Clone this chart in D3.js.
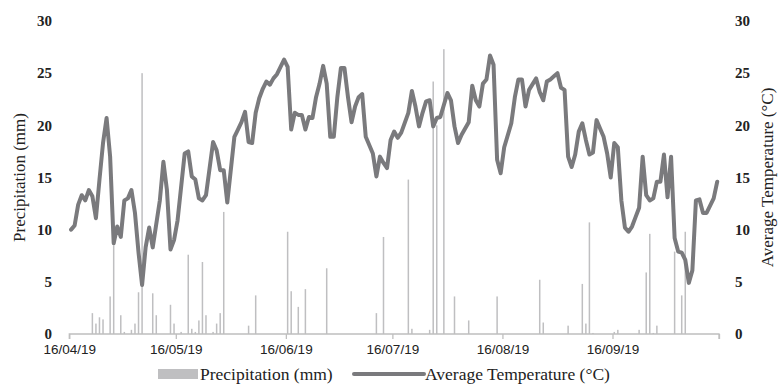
<!DOCTYPE html>
<html>
<head>
<meta charset="utf-8">
<script src="https://cdn.jsdelivr.net/npm/d3@7"></script>
<style>
  body { margin: 0; background: #fff; }
  svg { display: block; }
</style>
</head>
<body>
<div id="chart"></div>
<script>
// Day offsets are counted from 16/04/19
const startDate = '16/04/19';
const endDate = '16/10/19';
const tickLabels = ['16/04/19', '16/05/19', '16/06/19', '16/07/19', '16/08/19', '16/09/19'];
const yTicks = [0, 5, 10, 15, 20, 25, 30];

// Daily average temperature (°C)
const tempDays = [
  0, 1, 2, 3, 4, 5, 6, 7, 8, 9, 10, 11, 12, 13, 14, 15, 16, 17, 18, 19,
  20, 21, 22, 23, 25, 26, 27, 28, 29, 30, 32, 33, 34, 35, 36, 37, 38, 40, 41, 42,
  43, 44, 46, 47, 48, 49, 50, 51, 52, 53, 54, 55, 56, 57, 58, 59, 60, 61, 62, 63,
  64, 65, 66, 67, 68, 69, 70, 71, 72, 73, 74, 75, 76, 77, 78, 79, 80, 81, 82, 83,
  85, 86, 87, 88, 89, 90, 91, 92, 93, 95, 96, 97, 98, 99, 100, 101, 102, 103, 104, 106,
  107, 108, 109, 110, 112, 113, 114, 115, 116, 117, 118, 119, 120, 121, 122, 124, 125, 126, 127, 128,
  129, 131, 132, 133, 134, 135, 136, 137, 138, 139, 140, 141, 142, 143, 144, 145, 146, 147, 148, 149,
  150, 151, 152, 153, 154, 155, 156, 157, 158, 159, 160, 161, 162, 163, 164, 165, 166, 167, 168, 169,
  170, 171, 172, 173, 174, 175, 176, 177, 178, 179, 181, 182
];
const tempValues = [
  10.0, 10.4, 12.4, 13.3, 12.8, 13.8, 13.2, 11.1, 14.8, 18.3, 20.7, 17.0, 8.7, 10.3, 9.3, 12.8, 13.0, 13.8, 11.6, 7.8,
  4.7, 8.3, 10.2, 8.3, 12.8, 16.5, 13.8, 8.1, 9.0, 10.9, 17.3, 17.5, 15.1, 14.8, 13.0, 12.8, 13.3, 18.4, 17.6, 15.7,
  15.7, 12.6, 18.9, 19.6, 20.3, 21.3, 18.4, 18.3, 21.2, 22.6, 23.5, 24.2, 23.9, 24.5, 24.9, 25.6, 26.3, 25.6, 19.6, 21.2,
  21.0, 21.0, 19.6, 20.8, 20.7, 22.7, 24.0, 25.7, 24.0, 18.9, 18.9, 22.7, 25.5, 25.5, 22.7, 20.3, 21.8, 22.7, 23.0, 18.9,
  17.3, 15.1, 17.0, 16.4, 15.9, 18.6, 19.4, 18.8, 19.3, 21.2, 23.3, 21.8, 19.9, 21.2, 22.3, 22.4, 19.9, 20.7, 20.8, 23.1,
  22.4, 19.9, 18.3, 19.1, 20.3, 23.8, 22.4, 21.8, 24.0, 24.4, 26.7, 25.8, 16.7, 15.4, 17.9, 20.2, 22.7, 24.4, 24.4, 21.8,
  23.4, 24.5, 23.2, 22.4, 24.2, 24.4, 24.7, 25.0, 23.6, 23.4, 17.0, 16.0, 17.2, 19.4, 20.2, 18.6, 17.2, 17.4, 20.5, 19.7,
  18.9, 17.3, 15.0, 18.3, 17.9, 12.8, 10.2, 9.8, 10.3, 11.2, 12.1, 17.0, 13.3, 12.8, 13.0, 14.6, 14.6, 17.2, 13.1, 17.0,
  9.2, 7.9, 7.8, 7.1, 4.9, 6.1, 12.8, 12.9, 11.6, 11.6, 13.0, 14.6
];

// Daily precipitation (mm), rain days only
const precipDays = [
  6, 7, 8, 9, 11, 12, 14, 15, 17, 18, 19, 20, 23, 24, 28, 29, 31, 33, 34, 35,
  36, 37, 38, 40, 41, 42, 43, 50, 52, 61, 62, 64, 66, 72, 86, 88, 95, 96, 101, 102,
  103, 105, 108, 112, 120, 132, 133, 140, 144, 145, 146, 147, 153, 154, 160, 162, 163, 164, 165, 170,
  172, 173
];
const precipValues = [
  2.0, 1.0, 1.6, 1.4, 3.6, 8.5, 1.8, 0.2, 0.4, 1.0, 4.0, 25.0, 3.9, 1.8, 2.8, 1.0, 0.2, 7.6, 0.5, 0.2,
  1.3, 6.9, 1.8, 0.2, 1.0, 2.0, 11.7, 0.8, 3.7, 9.8, 4.1, 2.6, 4.3, 6.3, 2.0, 9.3, 14.8, 0.5, 0.4, 24.2,
  20.0, 27.3, 3.6, 1.3, 3.6, 5.2, 1.1, 0.8, 4.8, 1.0, 10.7, 0.1, 0.2, 0.4, 0.4, 5.9, 9.6, 0.1, 0.8, 7.9,
  3.7, 9.8
];

const width = 779, height = 385;
const margin = { top: 21, right: 60, bottom: 51, left: 69.3 };
const parse = d3.timeParse('%d/%m/%y');
const base = parse(startDate);

const svg = d3.select('#chart').append('svg')
  .attr('width', width)
  .attr('height', height);

const x = d3.scaleTime()
  .domain([base, parse(endDate)])
  .range([margin.left, 719]);

const yLeft = d3.scaleLinear().domain([0, 30]).range([height - margin.bottom, margin.top]);
const yRight = d3.scaleLinear().domain([0, 30]).range([height - margin.bottom, margin.top]);

// centre of a day slot
const dayX = d => {
  const t = d3.timeDay.offset(base, d);
  return (x(t) + x(d3.timeDay.offset(t, 1))) / 2;
};

// Precipitation bars
svg.append('g')
  .selectAll('rect')
  .data(precipDays.map((d, i) => ({ day: d, value: precipValues[i] })))
  .join('rect')
  .attr('x', d => dayX(d.day) - 0.75)
  .attr('y', d => yLeft(d.value))
  .attr('width', 1.5)
  .attr('height', d => yLeft(0) - yLeft(d.value))
  .attr('fill', '#bfbfc1');

// X axis
const xAxis = d3.axisBottom(x)
  .tickValues(tickLabels.map(parse).concat([parse(endDate)]))
  .tickSize(5)
  .tickFormat(d => tickLabels.find(l => +parse(l) === +d) || '');

const gx = svg.append('g')
  .attr('transform', `translate(0,${yLeft(0)})`)
  .call(xAxis);
gx.select('.domain').attr('stroke', '#bfbfbf').attr('stroke-width', 1.3).attr('d', `M${margin.left},5V0H719V5`);
gx.selectAll('.tick line').attr('stroke', '#bfbfbf').attr('stroke-width', 1.3);
gx.selectAll('.tick text')
  .attr('y', 10)
  .attr('fill', '#222')
  .attr('font-family', '"Liberation Sans", Arial, sans-serif')
  .attr('font-size', '13.5px')
  .attr('dy', '0.71em');

// Temperature line
const line = d3.line()
  .x((d, i) => dayX(d))
  .y((d, i) => yRight(tempValues[i]));

svg.append('path')
  .datum(tempDays)
  .attr('d', line)
  .attr('fill', 'none')
  .attr('stroke', '#7a7a7d')
  .attr('stroke-width', 4)
  .attr('stroke-linejoin', 'round')
  .attr('stroke-linecap', 'round');

// Left axis labels
svg.append('g')
  .selectAll('text')
  .data(yTicks)
  .join('text')
  .attr('x', 52)
  .attr('y', d => yLeft(d))
  .attr('dy', '0.35em')
  .attr('text-anchor', 'end')
  .attr('font-family', '"Liberation Serif", "Times New Roman", serif')
  .attr('font-weight', 'bold')
  .attr('font-size', '15px')
  .attr('fill', '#222')
  .text(d => d);

// Right axis labels
svg.append('g')
  .selectAll('text')
  .data(yTicks)
  .join('text')
  .attr('x', 735)
  .attr('y', d => yRight(d))
  .attr('dy', '0.35em')
  .attr('text-anchor', 'start')
  .attr('font-family', '"Liberation Serif", "Times New Roman", serif')
  .attr('font-weight', 'bold')
  .attr('font-size', '15px')
  .attr('fill', '#222')
  .text(d => d);

// Axis titles
svg.append('text')
  .attr('transform', `translate(25,${(yLeft(0) + yLeft(30)) / 2}) rotate(-90)`)
  .attr('text-anchor', 'middle')
  .attr('font-family', '"Liberation Serif", "Times New Roman", serif')
  .attr('font-size', '17px')
  .attr('fill', '#222')
  .text('Precipitation (mm)');

svg.append('text')
  .attr('transform', `translate(773,${(yRight(0) + yRight(30)) / 2}) rotate(-90)`)
  .attr('text-anchor', 'middle')
  .attr('font-family', '"Liberation Serif", "Times New Roman", serif')
  .attr('font-size', '17px')
  .attr('fill', '#222')
  .text('Average Temperature (°C)');

// Legend
const legend = svg.append('g').attr('transform', 'translate(0,374)');
legend.append('rect')
  .attr('x', 158).attr('y', -5)
  .attr('width', 40).attr('height', 10)
  .attr('fill', '#bfbfc1');
legend.append('text')
  .attr('x', 200).attr('y', 0).attr('dy', '0.35em')
  .attr('font-family', '"Liberation Serif", "Times New Roman", serif')
  .attr('font-size', '17.5px')
  .attr('fill', '#222')
  .text('Precipitation (mm)');
legend.append('line')
  .attr('x1', 354).attr('x2', 424)
  .attr('y1', 0).attr('y2', 0)
  .attr('stroke', '#7a7a7d')
  .attr('stroke-width', 4)
  .attr('stroke-linecap', 'round');
legend.append('text')
  .attr('x', 425).attr('y', 0).attr('dy', '0.35em')
  .attr('font-family', '"Liberation Serif", "Times New Roman", serif')
  .attr('font-size', '17.5px')
  .attr('fill', '#222')
  .text('Average Temperature (°C)');
</script>
</body>
</html>
